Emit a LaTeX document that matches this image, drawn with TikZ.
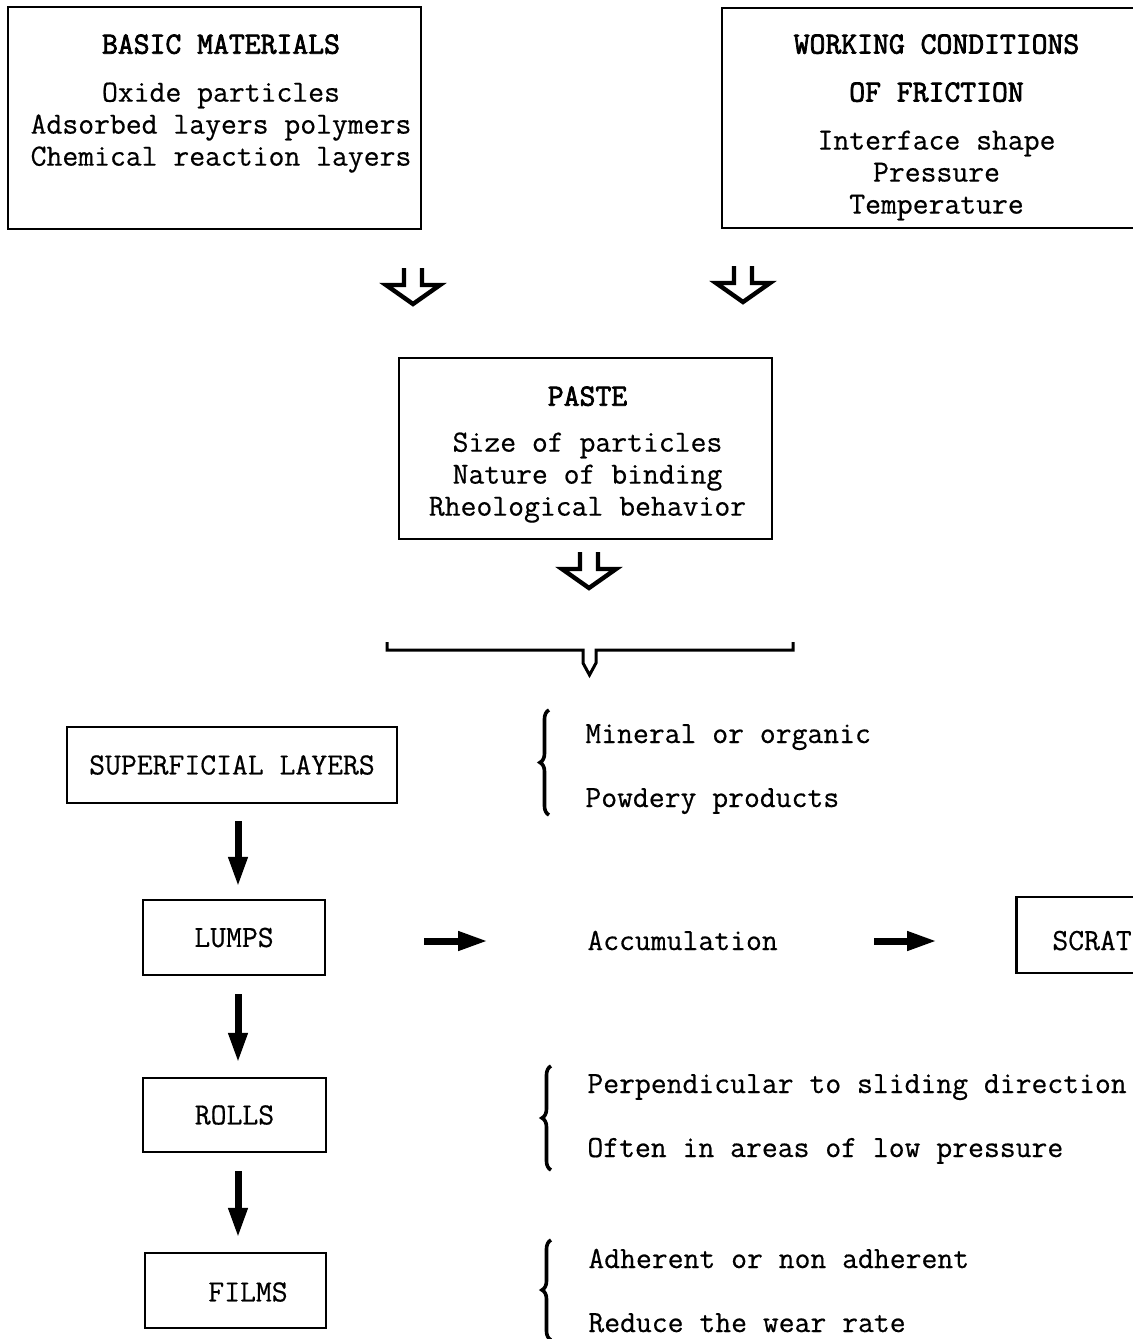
\documentclass[tikz,border=0pt]{standalone}
\usepackage{fontspec}
\setmonofont{Latin Modern Mono}[UprightFeatures={FakeBold=0.5}, BoldFont=Latin Modern Mono, BoldFeatures={FakeBold=2.4}]
\usetikzlibrary{arrows.meta,decorations.pathreplacing}
\tikzset{
  txt/.style={font=\ttfamily\fontsize{15.4}{16}\selectfont, inner sep=0pt},
  box/.style={draw, line width=1.25pt, inner sep=0pt},
  hollow/.style={line width=2.2pt, line join=miter},
  solidarrow/.style={line width=3.5pt, -{Triangle[length=15pt,width=9pt]}},
  bracestyle/.style={line width=1.8pt, decorate, decoration={brace, amplitude=4.5pt}},
}
\newcommand\hollowarrow[2]{\draw[hollow, shift={(#1)}] (-#2,-36) -- (-#2,-19) -- (-27,-19) -- (0,0) -- (27,-19) -- (#2,-19) -- (#2,-36);}
\begin{document}
\begin{tikzpicture}[x=0.5pt, y=-0.5pt]
\useasboundingbox (0,0) rectangle (1133,1339);
\begin{scope}
\clip (0,0) rectangle (1133,1339);
% top boxes
\node[box, minimum width=206.5pt, minimum height=111pt] (bm) at (214.5,118) {};
\node[txt, align=center, anchor=north] (bmt) at (221,34)
  {\bfseries BASIC MATERIALS\\[8pt] Oxide particles\\ Adsorbed layers polymers\\ Chemical reaction layers};
\node[box, minimum width=215pt, minimum height=110pt] (wc) at (937,118) {};
\node[txt, align=center, anchor=north] (wct) at (936.5,34)
  {\bfseries WORKING CONDITIONS\\[8pt] \bfseries OF FRICTION\\[8pt] Interface shape\\ Pressure\\ Temperature};
% hollow arrows
\coordinate (ha1) at (413,304);
\coordinate (ha2) at (743,302);
\coordinate (ha3) at (589,588);
\hollowarrow{ha1}{9}
\hollowarrow{ha2}{9}
\hollowarrow{ha3}{9}
% paste
\node[box, minimum width=186.5pt, minimum height=90.5pt] (paste) at (585.5,448.5) {};
\node[txt, align=center, anchor=north] (pastet) at (587.5,386)
  {\bfseries PASTE\\[7pt] Size of particles\\ Nature of binding\\ Rheological behavior};
% bracket
\draw[line width=1.5pt, line join=miter] (387,642) -- (387,650) -- (583,650) -- (583,663) -- (589.5,675) -- (596,663) -- (596,650) -- (793,650) -- (793,642);
% left column
\coordinate (ax) at (238,0);
\node[box, txt, minimum width=165pt, minimum height=38pt] (sl) at (232,765) {SUPERFICIAL LAYERS};
\node[box, txt, minimum width=91pt, minimum height=37.5pt] (lumps) at (234,937.5) {LUMPS};
\node[box, txt, minimum width=91.5pt, minimum height=37pt] (rolls) at (234.5,1115) {ROLLS};
\node[box, minimum width=90.5pt, minimum height=37.5pt] (films) at (235.5,1290.5) {};
\node[txt] (filmst) at (248,1292) {FILMS};
\draw[solidarrow, shorten <=8.5pt, shorten >=6pt] (sl.south -| ax) -- (lumps.north -| ax);
\draw[solidarrow, shorten <=9pt, shorten >=7pt] (lumps.south -| ax) -- (rolls.north -| ax);
\draw[solidarrow, shorten <=9pt, shorten >=7pt] (rolls.south -| ax) -- (films.north -| ax);
% right column texts
\node[txt, anchor=base west] (mo) at (585,743) {Mineral or organic};
\node[txt, anchor=base west] (pp) at (585,807) {Powdery products};
\node[txt, anchor=base west] (acc) at (587,950) {Accumulation};
\node[box, minimum width=100pt, minimum height=38pt, anchor=west] (scr) at (1015,935) {};
\node[txt, anchor=base west] (scrt) at (1052,950) {SCRAT};
\node[txt, anchor=base west] (perp) at (587,1093) {Perpendicular to sliding direction};
\node[txt, anchor=base west] (often) at (587,1157) {Often in areas of low pressure};
\node[txt, anchor=base west] (adh) at (588,1268) {Adherent or non adherent};
\node[txt, anchor=base west] (red) at (588,1332) {Reduce the wear rate};
\coordinate (ay) at (0,941);
\draw[line width=3.5pt, -{Triangle[length=15pt,width=9pt]}, shorten <=49pt, shorten >=49.5pt] (lumps.east |- ay) -- (acc.west |- ay);
\draw[line width=3.5pt, -{Triangle[length=15pt,width=9pt]}, shorten <=48pt, shorten >=39pt] (acc.east |- ay) -- (scr.west |- ay);
% braces
\draw[bracestyle] (549,815) -- (549,710);
\draw[bracestyle] (551,1170) -- (551,1066);
\draw[bracestyle] (551,1340) -- (551,1240);
\end{scope}
\end{tikzpicture}
\end{document}
